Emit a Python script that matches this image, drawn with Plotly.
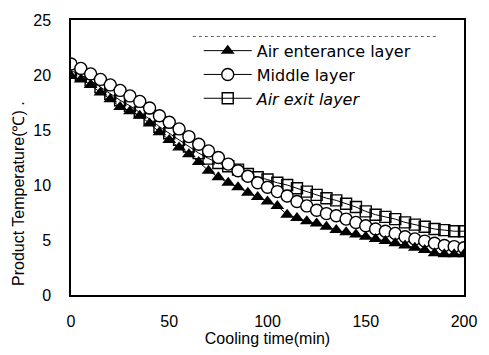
import plotly.graph_objects as go

# Cooling time (min), sampled every 5 minutes
time_min = list(range(0, 201, 5))

# Product temperature (°C) for each layer
air_entrance = [19.9, 19.6, 19.1, 18.4, 17.8, 17.1, 16.7, 16.3, 15.6, 14.8,
                14.1, 13.4, 12.8, 12.1, 11.3, 10.7, 10.2, 9.8, 9.3, 8.9,
                8.5, 8.1, 7.3, 7.0, 6.7, 6.5, 6.2, 5.9, 5.7, 5.5,
                5.3, 5.1, 4.9, 4.7, 4.5, 4.3, 4.1, 3.8, 3.7, 3.7, 3.7]
middle = [21.0, 20.6, 20.1, 19.6, 19.1, 18.6, 18.1, 17.6, 17.0, 16.3,
          15.7, 15.1, 14.4, 13.7, 13.1, 12.5, 11.9, 11.3, 10.8, 10.2,
          9.8, 9.4, 9.0, 8.5, 8.1, 7.7, 7.4, 7.2, 6.9, 6.6,
          6.3, 6.0, 5.8, 5.6, 5.3, 5.1, 4.9, 4.7, 4.5, 4.4, 4.3]
air_exit = [20.4, 20.0, 19.5, 18.9, 18.3, 17.7, 17.2, 16.6, 16.0, 15.3,
            14.7, 14.1, 13.5, 12.9, 12.4, 12.0, 11.7, 11.4, 11.0, 10.7,
            10.5, 10.2, 10.0, 9.7, 9.4, 9.1, 8.8, 8.6, 8.3, 8.0,
            7.6, 7.3, 7.1, 6.9, 6.6, 6.4, 6.2, 6.0, 5.9, 5.8, 5.8]

x_ticks = [0, 50, 100, 150, 200]
y_ticks = [0, 5, 10, 15, 20, 25]

font_family = "Liberation Sans, Arial, sans-serif"
legend_family = "DejaVu Sans, Liberation Sans, sans-serif"

fig = go.Figure()

# drawn back-to-front so the filled triangles sit on top
fig.add_trace(go.Scatter(
    x=time_min, y=air_exit, name="<i>Air exit layer</i>", mode="lines+markers",
    line=dict(color="black", width=1),
    marker=dict(symbol="square-open", size=11, color="black", line=dict(width=1.4)),
))
fig.add_trace(go.Scatter(
    x=time_min, y=middle, name="Middle layer", mode="lines+markers",
    line=dict(color="black", width=1),
    marker=dict(symbol="circle", size=12, color="white", line=dict(color="black", width=1.4)),
))
fig.add_trace(go.Scatter(
    x=time_min, y=air_entrance, name="Air enterance layer", mode="lines+markers",
    line=dict(color="black", width=1),
    marker=dict(symbol="triangle-up", size=12, color="black"),
))

fig.update_layout(
    width=489, height=355,
    margin=dict(l=71, r=20, t=17, b=57),
    paper_bgcolor="white", plot_bgcolor="white",
    font=dict(family=font_family, size=16, color="black"),
    showlegend=True,
    legend=dict(
        x=0.325, y=0.95, xanchor="left", yanchor="top",
        traceorder="reversed", itemwidth=48,
        bgcolor="rgba(255,255,255,0)",
        font=dict(family=legend_family, size=16, color="black"),
        tracegroupgap=0,
    ),
    xaxis=dict(
        range=[0, 200], tickvals=x_ticks, showgrid=False, zeroline=False,
        showline=True, linecolor="black", linewidth=1.5, mirror=True,
        ticks="", tickfont=dict(size=16), ticklabelstandoff=11,
        title=dict(text="Cooling time(min)", font=dict(size=16), standoff=2),
    ),
    yaxis=dict(
        range=[0, 25], tickvals=y_ticks, showgrid=False, zeroline=False,
        showline=True, linecolor="black", linewidth=1.5, mirror=True,
        ticks="", tickfont=dict(size=16), ticklabelstandoff=15,
    ),
)

# rotated y-axis title, sitting slightly below the axis midpoint
fig.add_annotation(
    text="Product Temperature(℃) .", textangle=-90,
    xref="paper", yref="paper", x=-0.133, y=0.37,
    xanchor="center", yanchor="middle", showarrow=False,
    font=dict(family=font_family, size=16, color="black"),
)

# faint dotted rule above the legend
fig.add_shape(
    type="line", xref="paper", yref="paper", x0=0.31, x1=0.93, y0=0.94, y1=0.94,
    line=dict(color="#666666", width=1, dash="dot"),
)

fig.write_html("out.html")
